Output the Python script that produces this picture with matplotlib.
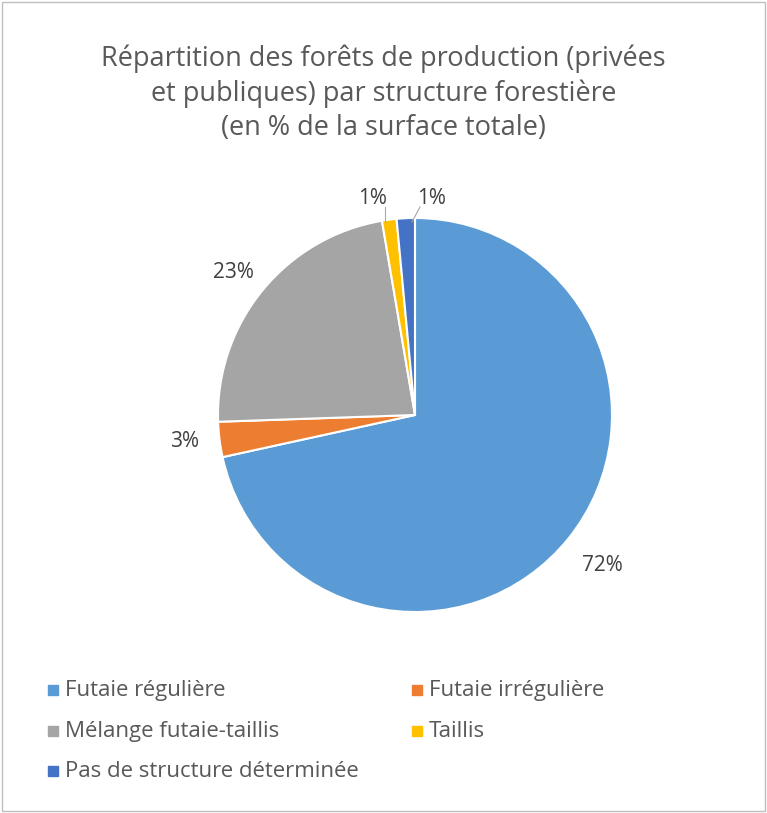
import matplotlib.pyplot as plt
from matplotlib.patches import Rectangle

categories = ['Futaie régulière', 'Futaie irrégulière', 'Mélange futaie-taillis',
              'Taillis', 'Pas de structure déterminée']
values = [72.0, 2.9, 23.0, 1.2, 1.5]
labels = ['72%', '3%', '23%', '1%', '1%']
colors = ['#5B9BD5', '#ED7D31', '#A5A5A5', '#FFC000', '#4472C4']

plt.rcParams['font.family'] = 'Open Sans'
fig = plt.figure(figsize=(7.67, 8.13), dpi=100)
fig.patches.append(Rectangle((0.003, 0.003), 0.994, 0.994, transform=fig.transFigure,
                             fill=False, edgecolor='#BFBFBF', lw=1))

fig.text(0.5, 0.945, 'Répartition des forêts de production (privées\net publiques) par structure forestière\n(en % de la surface totale)',
         ha='center', va='top', fontsize=19.5, color='#595959', linespacing=1.3)

# pie centred at (415,415) px, radius ~197 px
r = 197
ax = fig.add_axes([(415 - r) / 767, (813 - 415 - r) / 813, 2 * r / 767, 2 * r / 813])
wedges, _ = ax.pie(values, colors=colors, startangle=90, counterclock=False,
                   wedgeprops=dict(edgecolor='white', linewidth=1.5))
ax.set_xlim(-1, 1)
ax.set_ylim(-1, 1)
ax.set_aspect('auto')

label_pos = [(602, 565), (185, 441), (233, 272), (373, 198), (432, 198)]
for (x, y), t in zip(label_pos, labels):
    fig.text(x / 767, 1 - y / 813, t, ha='center', va='center', fontsize=15, color='#404040')
# leader lines for the small slices
fig.add_artist(plt.Line2D([385 / 767, 385 / 767], [1 - 207 / 813, 1 - 222 / 813],
                          color='#A6A6A6', lw=0.8))
fig.add_artist(plt.Line2D([420 / 767, 412 / 767], [1 - 207 / 813, 1 - 222 / 813],
                          color='#A6A6A6', lw=0.8))

leg_pos = [(48, 690), (412, 690), (48, 731), (412, 731), (48, 771)]
for (x, y), c, name in zip(leg_pos, colors, categories):
    fig.patches.append(Rectangle((x / 767, 1 - (y + 5) / 813), 10 / 767, 10 / 813,
                                 transform=fig.transFigure, color=c))
    fig.text((x + 17) / 767, 1 - y / 813, name, ha='left', va='center',
             fontsize=16, color='#595959')

fig.savefig('out.png', dpi=100)
